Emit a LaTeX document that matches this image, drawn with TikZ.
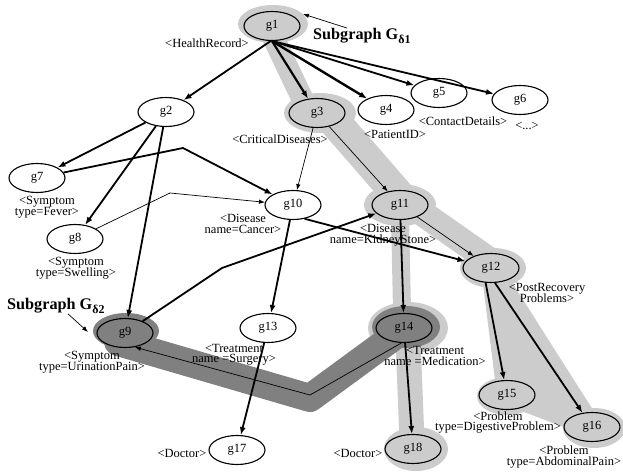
\documentclass[tikz,border=0pt]{standalone}
\usepackage{fontspec}
\setmainfont{Liberation Serif}
\usetikzlibrary{arrows.meta,shapes.geometric}
\newcommand\lblfont{\fontsize{12.5}{10.5}\selectfont\lineskiplimit=-20pt\relax}
\newcommand\subfnt{\fontsize{12}{12}\selectfont}
\begin{document}
\begin{tikzpicture}[x=1pt,y=-1pt,
  gn/.style={ellipse, draw, line width=1.1pt, minimum width=56pt, minimum height=29pt, inner sep=0pt, font=\fontsize{12.5}{12.5}\selectfont},
  hl/.style={gn, fill=gray!40},
  dk/.style={gn, fill=gray},
  wt/.style={gn, fill=white},
  lbl/.style={align=center, inner sep=0pt, font=\lblfont},
  sub/.style={anchor=base west, inner sep=0pt, font=\fontsize{16.2}{16.2}\selectfont\bfseries},
  thk/.style={line width=1.8pt, -{Latex[length=8pt,width=6pt]}},
  thn/.style={line width=0.7pt, -{Latex[length=6pt,width=4.5pt]}},
  lblob/.style={draw=gray!40, line cap=round, line join=round},
  dblob/.style={draw=gray, line cap=round, line join=round},
]
\useasboundingbox (0,0) rectangle (623,473);
% light highlighted subgraph
\fill[gray!40] (273,24) ellipse [x radius=35pt, y radius=19pt];
\draw[lblob, line width=22pt] (272,35) -- (303,100);
\fill[gray!40] (320,113) ellipse [x radius=36pt, y radius=20pt];
\draw[lblob, line width=32pt] (327,113) -- (407,205);
\fill[gray!40] (400,205) ellipse [x radius=36pt, y radius=21pt];
\draw[lblob, line width=26pt] (412,206) -- (492,262);
\fill[gray!40] (491,268) -- (507,395) -- (592,427) -- cycle;
\draw[lblob, line width=20pt] (491,268) -- (507,395) -- (592,427) -- cycle;
\fill[gray!40] (493,268) ellipse [x radius=33pt, y radius=20pt];
\fill[gray!40] (507,396) ellipse [x radius=30pt, y radius=19pt];
\fill[gray!40] (594,428) ellipse [x radius=31pt, y radius=20pt];
\draw[lblob, line width=18pt] (400,215) -- (402,310);
\fill[gray!40] (408,328) ellipse [x radius=40pt, y radius=26pt];
\draw[lblob, line width=25pt] (408,340) -- (412,440);
\fill[gray!40] (416,449) ellipse [x radius=32pt, y radius=22pt];
% dark highlighted subgraph
\draw[dblob, line width=28pt] (118,342) -- (310,398) -- (400,332);
\fill[gray] (126,331) ellipse [x radius=33pt, y radius=18pt];
\fill[gray] (406,327) ellipse [x radius=34pt, y radius=21pt];
% nodes
\node[hl] (g1) at (272,26) {g1};
\node[wt] (g2) at (166,112) {g2};
\node[hl] (g3) at (317,113) {g3};
\node[wt] (g4) at (386,110) {g4};
\node[wt] (g5) at (439,93) {g5};
\node[wt] (g6) at (520,100) {g6};
\node[wt] (g7) at (37,178) {g7};
\node[wt] (g8) at (75,239) {g8};
\node[dk] (g9) at (125,333) {g9};
\node[wt] (g10) at (293,205) {g10};
\node[hl] (g11) at (400,205) {g11};
\node[hl] (g12) at (491,268) {g12};
\node[wt] (g13) at (268,328) {g13};
\node[dk] (g14) at (404,328) {g14};
\node[hl] (g15) at (507,395) {g15};
\node[hl] (g16) at (592,427) {g16};
\node[wt] (g17) at (237,450) {g17};
\node[hl] (g18) at (413,449) {g18};
% bend points
\coordinate (b7) at (183,148);
\coordinate (b8) at (170,193);
\coordinate (b9) at (222,268);
\coordinate (b14) at (310,395);
% edges
\draw[thk] (g1.265) -- (g2);
\draw[thk, line width=2.2pt] (g1.south) -- (g3);
\draw[thk, line width=2.4pt] (g1.south) -- (g4);
\draw[thk] (g1.south) -- (g5);
\draw[thk] (g1.south) -- (g6);
\draw[thk] (g2) -- (g7);
\draw[thk] (g2) -- (g8);
\draw[thk] (g2) -- (g9);
\draw[thk] (g7) -- (b7) -- (g10);
\draw[thn] (g8) -- (b8) -- (g10);
\draw[thn] (g3) -- (g10);
\draw[thn] (g3) -- (g11);
\draw[thk] (g10.-50) -- (g12);
\draw[thn] (g11) -- (g12);
\draw[thk] (g9) -- (b9) -- (g11);
\draw[thk] (g10) -- (g13);
\draw[thk] (g11) -- (g14);
\draw[thk] (g12.-110) -- (g15);
\draw[thk] (g12.-75) -- (g16);
\draw[thk] (g13) -- (g17);
\draw[thk] (g14) -- (g18);
\draw[thn] (g14.-100) -- (b14) -- (g9.-55);
% labels
\node[lbl] (l1) at (207,43) {<HealthRecord>};
\node[lbl] (l3) at (280,139) {<CriticalDiseases>};
\node[lbl] (l4) at (395,134) {<PatientID>};
\node[lbl] (l5) at (463,121) {<ContactDetails>};
\node[lbl] (l6) at (527,126) {<...>};
\node[lbl] (l7) at (47,207) {<Symptom\\type=Fever>};
\node[lbl] (l8) at (76,268) {<Symptom\\type=Swelling>};
\node[lbl] (l9) at (92,362) {<Symptom\\type=UrinationPain>};
\node[lbl] (l10) at (243,224) {<Disease\\name=Cancer>};
\node[lbl] (l11) at (383,235) {<Disease\\name=KidneyStone>};
\node[lbl] (l12) at (547,293) {<PostRecovery\\Problems>};
\node[lbl] (l13) at (234,355) {<Treatment\\name =Surgery>};
\node[lbl] (l14) at (435,356) {<Treatment\\name =Medication>};
\node[lbl] (l15) at (498,422.5) {<Problem\\type=DigestiveProblem>};
\node[lbl] (l16) at (564,457) {<Problem\\type=AbdominalPain>};
\node[lbl] (l17) at (182,453) {<Doctor>};
\node[lbl] (l18) at (358,453) {<Doctor>};
% subgraph captions
\node[sub] (sg1) at (313,39.5) {Subgraph G\raisebox{-4.5pt}{\subfnt δ1}};
\node[sub] (sg2) at (7,309) {Subgraph G\raisebox{-4.5pt}{\subfnt δ2}};
\coordinate (sg1t) at (303,14);
\coordinate (sg2t) at (88,332);
\draw[thn] ([xshift=34pt]sg1.north west) -- (sg1t);
\draw[thn] ([xshift=61pt]sg2.south west) -- (sg2t);
\end{tikzpicture}
\end{document}
